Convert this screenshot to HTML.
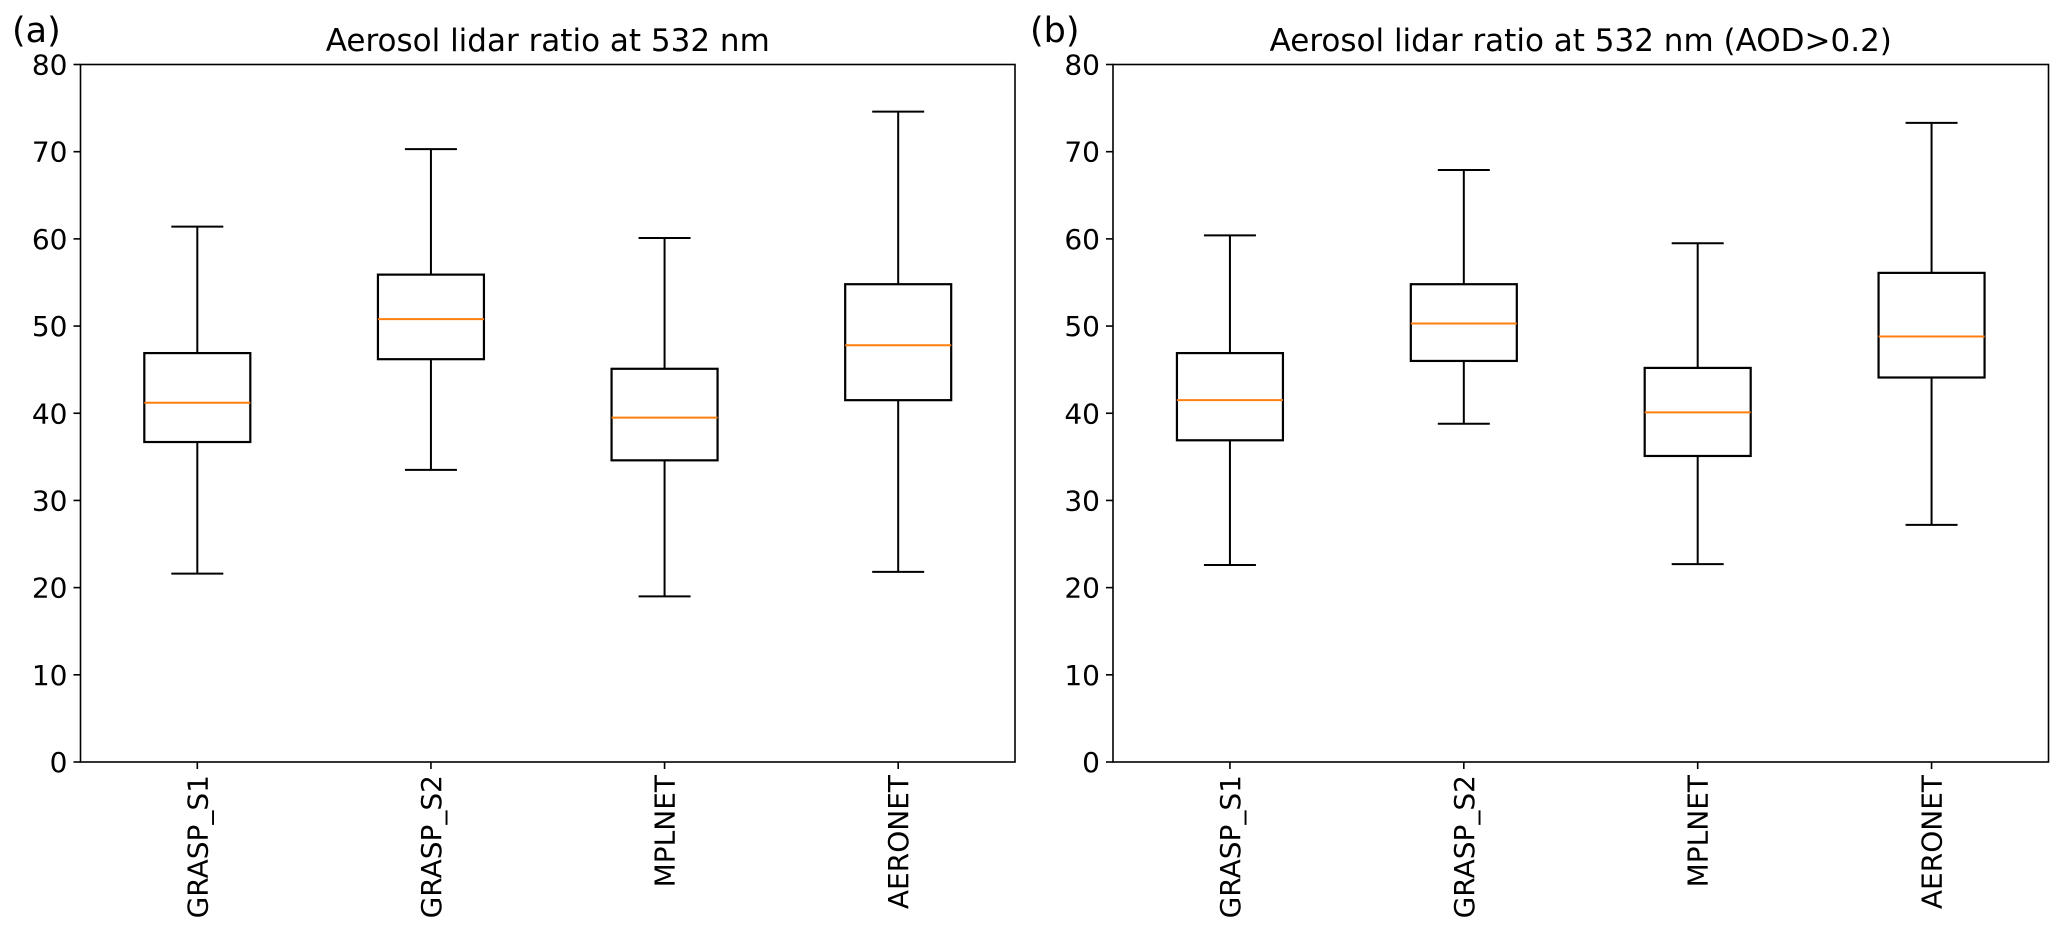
<!DOCTYPE html>
<html><head><meta charset="utf-8"><style>
body{margin:0;background:#fff;overflow:hidden}
svg{display:block;font-family:"DejaVu Sans","Liberation Sans",sans-serif}
</style></head><body>
<svg id="chart" width="2067" height="925" viewBox="0 0 2067 925" xmlns="http://www.w3.org/2000/svg"></svg>
<script>
const categories = ["GRASP_S1","GRASP_S2","MPLNET","AERONET"];
const titles = ["Aerosol lidar ratio at 532 nm","Aerosol lidar ratio at 532 nm (AOD>0.2)"];
const panelLabels = ["(a)","(b)"];
const yTicks = [0,10,20,30,40,50,60,70,80];
// [whisker low, q1, median, q3, whisker high]
const statsA = [[21.6,36.7,41.2,46.9,61.4],[33.5,46.2,50.8,55.9,70.3],[19.0,34.6,39.5,45.1,60.1],[21.8,41.5,47.8,54.8,74.6]];
const statsB = [[22.6,36.9,41.5,46.9,60.4],[38.8,46.0,50.3,54.8,67.9],[22.7,35.1,40.1,45.2,59.5],[27.2,44.1,48.8,56.1,73.3]];
const allStats = [statsA, statsB];

const NS="http://www.w3.org/2000/svg";
const svgEl=document.getElementById('chart');
function mk(tag,attrs,parent){const e=document.createElementNS(NS,tag);for(const k in attrs)e.setAttribute(k,attrs[k]);(parent||svgEl).appendChild(e);return e;}
const panels=[{l:80.5,r:1015},{l:1113,r:2048.5}];
const plotTop=64.5,plotBottom=762;
panels.forEach((p,pi)=>{
  const g=mk('g',{});
  
  
  const y=v=>plotBottom-(v-0)/(80-0)*(plotBottom-plotTop);
  const step=(p.r-p.l)/4;
  const x=i=>p.l+step*(i+0.5);
  const lab=mk('text',{x:pi===0?12:1030,y:42,'font-size':35,fill:'#000'},g);lab.textContent=panelLabels[pi];
  
  
  const t=mk('text',{x:(p.l+p.r)/2,y:51,'font-size':31,'text-anchor':'middle',fill:'#000'},g);t.textContent=titles[pi];
  
  
  yTicks.forEach(v=>{
    mk('line',{x1:p.l-7,x2:p.l,y1:y(v),y2:y(v),stroke:'#000','stroke-width':1.6},g);
    const tl=mk('text',{x:p.l-13,y:y(v)+10,'font-size':28,'text-anchor':'end',fill:'#000'},g);tl.textContent=v;
    
    
  });
  categories.forEach((c,i)=>{
    const cx=x(i);
    mk('line',{x1:cx,x2:cx,y1:plotBottom,y2:plotBottom+7,stroke:'#000','stroke-width':1.6},g);
    const tl=mk('text',{x:0,y:0,'font-size':28,'text-anchor':'end',fill:'#000',transform:`translate(${cx+10},${plotBottom+13}) rotate(-90)`},g);tl.textContent=c;
    
    
    const s=allStats[pi][i];
    const bg=mk('g',{},g);
    
    
    const hw=53,cw=26;
    mk('line',{x1:cx,x2:cx,y1:y(s[0]),y2:y(s[1]),stroke:'#000','stroke-width':2},bg);
    mk('line',{x1:cx,x2:cx,y1:y(s[3]),y2:y(s[4]),stroke:'#000','stroke-width':2},bg);
    mk('line',{x1:cx-cw,x2:cx+cw,y1:y(s[0]),y2:y(s[0]),stroke:'#000','stroke-width':2},bg);
    mk('line',{x1:cx-cw,x2:cx+cw,y1:y(s[4]),y2:y(s[4]),stroke:'#000','stroke-width':2},bg);
    mk('rect',{x:cx-hw,y:y(s[3]),width:2*hw,height:y(s[1])-y(s[3]),fill:'none',stroke:'#000','stroke-width':2.2},bg);
    mk('line',{x1:cx-hw,x2:cx+hw,y1:y(s[2]),y2:y(s[2]),stroke:'#ff7f0e','stroke-width':2},bg);
  });
  mk('rect',{x:p.l,y:plotTop,width:p.r-p.l,height:plotBottom-plotTop,fill:'none',stroke:'#000','stroke-width':1.6},g);
});
</script>
</body></html>
